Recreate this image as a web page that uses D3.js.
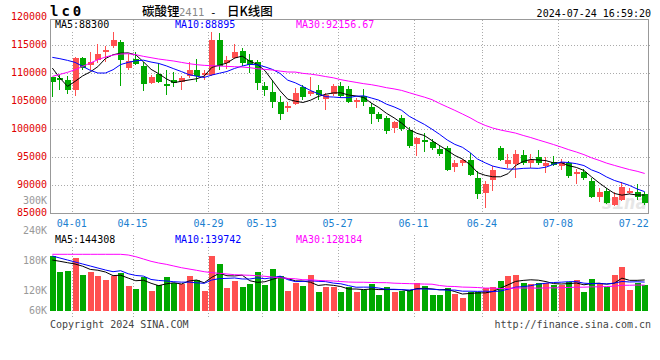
<!DOCTYPE html>
<html><head><meta charset="utf-8">
<script src="https://cdn.jsdelivr.net/npm/d3@7"></script>
<style>body{margin:0;background:#fff}svg{display:block}text{font-family:"DejaVu Sans Mono",monospace}</style>
</head><body><svg id="c" width="660" height="360"></svg>
<script>
const dates = ["03-27","03-28","03-29","04-01","04-02","04-03","04-08","04-09","04-10","04-11","04-12","04-15","04-16","04-17","04-18","04-19","04-22","04-23","04-24","04-25","04-26","04-29","04-30","05-06","05-07","05-08","05-09","05-10","05-13","05-14","05-15","05-16","05-17","05-20","05-21","05-22","05-23","05-24","05-27","05-28","05-29","05-30","05-31","06-03","06-04","06-05","06-06","06-07","06-11","06-12","06-13","06-14","06-17","06-18","06-19","06-20","06-21","06-24","06-25","06-26","06-27","06-28","07-01","07-02","07-03","07-04","07-05","07-08","07-09","07-10","07-11","07-12","07-15","07-16","07-17","07-18","07-19","07-22","07-23"];
const openP = [109410,109170,108930,107020,112860,111550,112380,113930,114880,115710,110950,112620,111430,108330,110000,108210,108810,108450,109640,110600,109760,109820,116070,111900,112860,114050,112500,112020,107740,106790,105000,103810,104520,107620,106310,107140,105480,106430,107740,107260,105000,105950,104050,102860,102020,100240,102140,100000,97380,98210,97860,96550,96670,93330,94050,94640,91310,88690,90950,96790,93930,93810,95480,94050,95120,93450,94290,93450,94050,92020,92500,90830,87980,89050,86550,87380,88690,88930,88450];
const highP = [109500,109700,109520,112980,113000,113810,115360,115000,117500,115950,113450,113930,112140,109760,111900,110600,110360,109520,112140,112620,110710,117380,117260,113210,115360,114640,113450,112500,108570,108810,105950,105000,107380,107980,109400,107980,106550,108100,108450,107740,105600,107260,104760,103210,102500,101550,102620,100480,98690,99400,98330,97260,97020,94520,94760,95830,92620,90830,93450,97020,95600,96430,96430,95600,96310,95120,95240,94760,94400,92980,92980,91310,89520,89640,88930,90710,89520,90360,88810];
const lowP = [105770,107020,106310,105950,110710,110600,111900,112020,114640,107740,110710,111550,106900,108100,108330,106190,107620,107020,109170,108450,108810,109640,110710,110830,112620,111310,110120,107140,105950,103930,101670,103100,104400,105360,106070,105360,103450,105950,105600,104760,103810,104170,100950,101310,99170,99400,99760,96670,95240,95950,96310,95360,92620,92380,93450,91790,87620,85950,89050,94400,93100,91310,93690,93100,93690,92260,93450,92740,91430,90240,90950,87860,87020,86790,86430,87260,88450,87500,86550];
const closeP = [108450,108870,107020,112740,110950,112020,113570,114290,116070,112380,112260,111790,108100,109400,108450,107740,108330,109290,110600,109520,110120,116070,111310,112500,113930,111900,111550,108330,107020,104880,102860,104170,106550,105830,106900,106190,106190,107740,105950,104880,105360,104880,102740,101900,99760,101310,100120,97020,98570,97740,96790,95710,92740,94050,94520,91900,88450,90360,92740,94520,94640,95710,94050,94520,94050,94050,93690,94290,91790,92500,91310,87980,88930,86900,87980,89760,89050,87980,86900];
const volume = [190000,158000,159400,186000,151400,158000,150000,141400,150000,155400,129400,123400,146800,119400,131400,147400,134800,133400,150000,141400,119400,190000,173400,125400,139400,127400,134000,157400,131400,163400,149400,119400,134800,129400,151400,117400,127400,128000,117400,126800,117400,121400,134000,111400,127400,117400,120000,121400,135400,129400,111400,111400,125400,113400,105400,116800,116800,125400,127400,139400,149400,151400,135400,133400,135400,135400,131400,131400,137400,141400,117400,143400,135400,127400,151400,168000,121400,135400,131400];
// moving-average values before a full window is available
const ma5Head = [111010,109230,107740,108630];
const ma10Head = [112920,112680,112380,112020,111310,110600,110120,110120,110710];
const ma30Head = [109520,109880,110240,110710,111310,111900,112500,112980,113330,113510,113570,113390,113100,112860,112620,112440,112260,112020,111790,111610,111490,111430,111370,111310,111250,111190,111070,110890,110770];
const vma5Head = [181400,178800,176000,173400];
const vma10Head = [189400,185400,181400,177400,173400,169400,165400,161400,158000];
const vma30Head = [192800,192800,192800,192800,192800,192800,192800,192800,192800,192800,191400,188000,183400,178800,175400,172800,169400,166000,163400,160800,158000,156000,154800,153400,152000,151400,150800,150000,148800];
const priceTicks = [120000,115000,110000,105000,100000,95000,90000,85000];
const volTicks = [300000,240000,180000,120000,60000];
const dateTicks = ["04-01","04-15","04-29","05-13","05-27","06-11","06-24","07-08","07-22"];
const priceLegend = ["MA5:88300","MA10:88895","MA30:92156.67"];
const volLegend = ["MA5:144308","MA10:139742","MA30:128184"];

const RED="#ff5050", GREEN="#00a800", GRID="#aaaaaa", BORDER="#999999";
const maColors=["#000000","#0000ff","#ff00ff"];
const svg=d3.select("#c");
const x=d3.scaleBand().domain(dates).range([49,649]).paddingInner(0).paddingOuter(0);
const bw=x.bandwidth();
const cx=d=>x(d)+bw/2;
const y=d3.scaleLinear().domain([85000,120000]).range([213.7,17.7]);
const vy=d3.scaleLinear().domain([0,300000]).range([350.7,200.7]);
const P={top:19.5,bottom:213.5,left:50.5,right:649.5};
const V={top:234.5,bottom:317.5,floor:311};

function movingAvg(vals,n,head){return vals.map((v,i)=>i<n-1?head[i]:d3.mean(vals.slice(i-n+1,i+1)));}
const pm=[movingAvg(closeP,5,ma5Head),movingAvg(closeP,10,ma10Head),movingAvg(closeP,30,ma30Head)];
const vm=[movingAvg(volume,5,vma5Head),movingAvg(volume,10,vma10Head),movingAvg(volume,30,vma30Head)];

// header
svg.append("text").attr("x",50).attr("y",15.5).attr("font-size",14).attr("font-weight","bold").attr("letter-spacing",3).attr("fill","#000").text("lc0");
const t=svg.append("text").attr("y",16).attr("font-size",12.5).attr("fill","#000");
t.append("tspan").attr("x",142).attr("font-family","'Noto Sans CJK SC'").attr("font-weight",500).text("碳酸锂");
t.append("tspan").attr("x",179).attr("font-size",10.5).attr("fill","#888").text("2411");
t.append("tspan").attr("x",210).attr("font-size",11).text("-");
t.append("tspan").attr("x",227).attr("font-family","'Noto Sans CJK SC'").attr("font-weight",500).text("日K线图");
svg.append("text").attr("x",651).attr("y",16.5).attr("text-anchor","end").attr("font-size",10).attr("fill","#000").text("2024-07-24 16:59:20");

// watermark
svg.append("text").attr("x",647).attr("y",209).attr("text-anchor","end").attr("font-size",19).attr("font-style","italic").attr("font-weight","bold").attr("font-family","'DejaVu Sans',sans-serif").attr("fill","#e6e6e6").text("sina");

// grids
const grid=svg.append("g").attr("stroke",GRID).attr("stroke-dasharray","1,2").attr("shape-rendering","crispEdges");
priceTicks.slice(1,-1).forEach(v=>{const yy=Math.floor(y(v))+0.5;grid.append("line").attr("x1",P.left+1).attr("x2",P.right).attr("y1",yy).attr("y2",yy);});
[1,2,3].forEach(k=>{const yy=235.5+k*20;grid.append("line").attr("x1",V.left+1).attr("x2",V.right).attr("y1",yy).attr("y2",yy);});
dateTicks.slice(0,-1).forEach(d=>{const xx=Math.round(x(d))+0.5;
  grid.append("line").attr("x1",xx).attr("x2",xx).attr("y1",P.top).attr("y2",P.bottom);
  grid.append("line").attr("x1",xx).attr("x2",xx).attr("y1",V.top).attr("y2",V.bottom);});

// legends
function legend(items,yy){
  const xs=[55,175,296];
  items.forEach((s,i)=>{
    const tx=svg.append("text").attr("x",xs[i]).attr("y",yy).attr("font-size",10).attr("fill",maColors[i]).text(s);
    if(i<2){const b=tx.node().getBBox();svg.insert("rect","text:last-of-type").attr("x",b.x).attr("y",b.y+1).attr("width",b.width).attr("height",b.height-1).attr("fill","#fff");tx.raise();}
  });
}
legend(priceLegend,28);
legend(volLegend,243);

// candles and volume bars
const cg=svg.append("g").attr("shape-rendering","crispEdges");
dates.forEach((d,i)=>{
  const o=openP[i],c=closeP[i],col=c>=o?RED:GREEN,rc=Math.round(cx(d));
  cg.append("rect").attr("x",rc-1).attr("width",1).attr("y",y(highP[i])).attr("height",y(lowP[i])-y(highP[i])).attr("fill",col);
  const top=y(Math.max(o,c)),bot=y(Math.min(o,c));
  cg.append("rect").attr("x",rc-3).attr("width",6).attr("y",top).attr("height",Math.max(1,bot-top)).attr("fill",col);
  const vt=vy(volume[i]);
  cg.append("rect").attr("x",rc-3).attr("width",6).attr("y",vt).attr("height",V.floor-vt).attr("fill",col);
});

// MA lines
pm.forEach((arr,k)=>svg.append("path").datum(arr).attr("fill","none").attr("stroke",maColors[k]).attr("stroke-width",1)
  .attr("d",d3.line().x((v,i)=>cx(dates[i])-0.5).y(v=>y(v))));
vm.forEach((arr,k)=>svg.append("path").datum(arr).attr("fill","none").attr("stroke",maColors[k]).attr("stroke-width",1)
  .attr("d",d3.line().x((v,i)=>cx(dates[i])-0.5).y(v=>vy(v))));

// borders
const bg=svg.append("g").attr("fill","none").attr("stroke",BORDER).attr("shape-rendering","crispEdges");
bg.append("rect").attr("x",P.left).attr("y",P.top).attr("width",P.right-P.left-1).attr("height",P.bottom-P.top);
bg.append("rect").attr("x",V.left).attr("y",V.top).attr("width",V.right-V.left-1).attr("height",V.bottom-V.top);

// axis labels
priceTicks.forEach(v=>svg.append("text").attr("x",47).attr("y",y(v)+2).attr("text-anchor","end").attr("font-size",10).attr("fill","#e00000").text(v));
volTicks.forEach(v=>svg.append("text").attr("x",47).attr("y",Math.min(vy(v),V.floor-0.3)+3.6).attr("text-anchor","end").attr("font-size",10).attr("fill","#999").text(v/1000+"K"));
dateTicks.forEach(d=>svg.append("text").attr("x",x(d)).attr("y",227).attr("text-anchor","middle").attr("font-size",10).attr("fill","#1a80d0").text(d));

// footer
svg.append("text").attr("x",50).attr("y",328).attr("font-size",10).attr("fill","#444").text("Copyright 2024 SINA.COM");
svg.append("text").attr("x",651).attr("y",328).attr("text-anchor","end").attr("font-size",10).attr("fill","#444").text("http://finance.sina.com.cn");
</script></body></html>
